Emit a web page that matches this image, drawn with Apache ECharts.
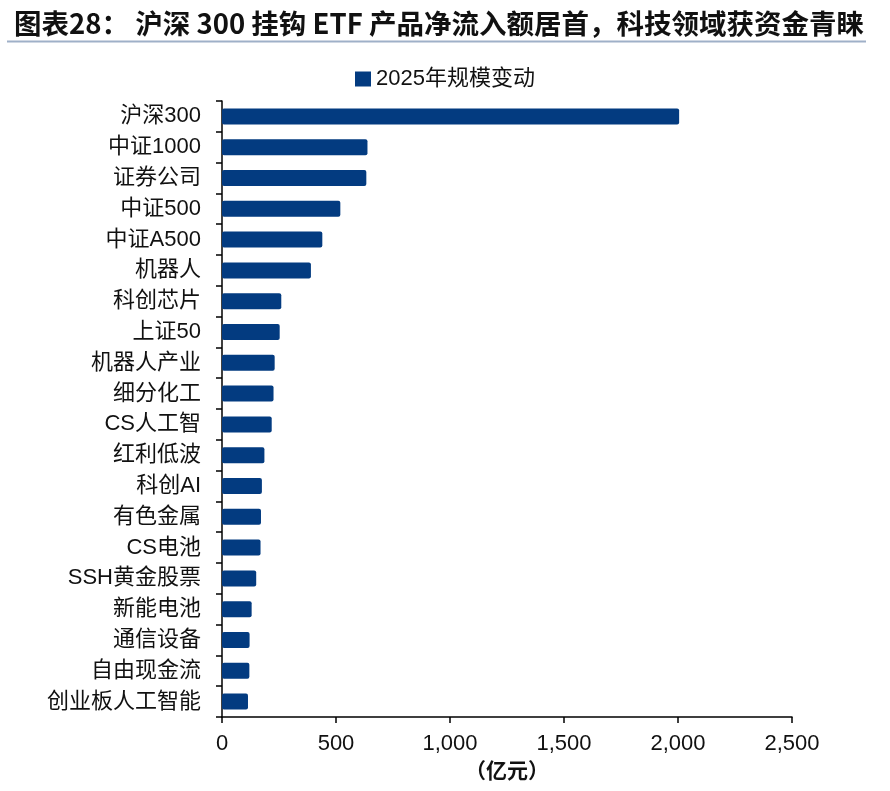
<!DOCTYPE html>
<html>
<head>
<meta charset="utf-8">
<script src="https://cdn.jsdelivr.net/npm/echarts@6/dist/echarts.min.js"></script>
<style>html,body{margin:0;padding:0;background:#fff;}#c{width:890px;height:791px;}</style>
</head>
<body>
<div id="c"></div>
<script>
const categories = ['沪深300','中证1000','证券公司','中证500','中证A500','机器人','科创芯片','上证50','机器人产业','细分化工','CS人工智','红利低波','科创AI','有色金属','CS电池','SSH黄金股票','新能电池','通信设备','自由现金流','创业板人工智能'];
const values = [2005, 638, 633, 519, 440, 390, 260, 253, 231, 226, 218, 186, 175, 171, 169, 150, 130, 121, 120, 114];
const seriesName = '2025年规模变动';
const xTicks = [0, 500, 1000, 1500, 2000, 2500];
const titleText = '图表28： 沪深 300 挂钩 ETF 产品净流入额居首，科技领域获资金青睐';
const unitText = '（亿元）';

const FONT = '"Liberation Sans", Arial, "Noto Sans CJK SC", sans-serif';
const chart = echarts.init(document.getElementById('c'));
chart.setOption({
  animation: false,
  backgroundColor: '#fff',
  title: {
    text: titleText, left: 9, top: 5,
    textStyle: { fontSize: 27.5, fontWeight: 'bold', color: '#111', fontFamily: '"Noto Sans CJK SC", sans-serif' }
  },
  graphic: [{
    type: 'line', shape: { x1: 7, y1: 41.5, x2: 866, y2: 41.5 },
    style: { stroke: '#9fb0c8', lineWidth: 2 }
  }],
  legend: {
    data: [seriesName], top: 63, left: 350,
    itemWidth: 16, itemHeight: 15, itemGap: 3,
    icon: 'rect',
    textStyle: { fontSize: 22, color: '#111', fontFamily: FONT }
  },
  grid: { left: 222, right: 98, top: 101, bottom: 74, containLabel: false },
  xAxis: {
    type: 'value', min: xTicks[0], max: xTicks[xTicks.length - 1], interval: 500,
    name: unitText, nameLocation: 'middle', nameGap: 38,
    nameTextStyle: { fontSize: 21, color: '#111', fontWeight: 'bold', fontFamily: '"Noto Sans CJK SC", sans-serif' },
    axisLine: { show: true, lineStyle: { color: '#000', width: 1.5 } },
    axisTick: { show: true, length: 6, lineStyle: { color: '#000', width: 1.5 } },
    splitLine: { show: false },
    axisLabel: {
      fontSize: 22, color: '#111', margin: 16, fontFamily: FONT,
      formatter: v => v.toLocaleString('en-US')
    }
  },
  yAxis: {
    type: 'category', data: categories, inverse: true,
    axisLine: { show: true, lineStyle: { color: '#000', width: 1.5 } },
    axisTick: { show: true, length: 6, lineStyle: { color: '#000', width: 1.5 } },
    axisLabel: { fontSize: 22, color: '#111', margin: 21, fontFamily: FONT, interval: 0 }
  },
  series: [{
    name: seriesName, type: 'bar', data: values, barWidth: 16,
    itemStyle: { color: '#033b80', borderRadius: 2 }
  }]
});
</script>
</body>
</html>
